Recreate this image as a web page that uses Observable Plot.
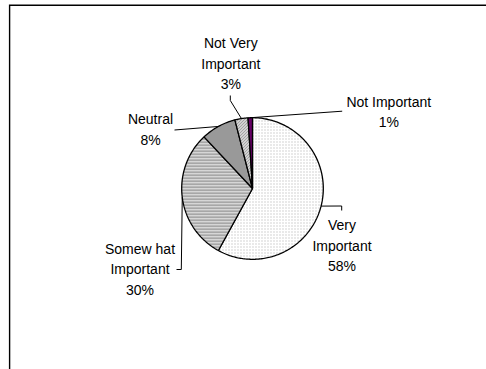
<!DOCTYPE html>
<html>
<head>
<meta charset="utf-8">
<script src="https://cdn.jsdelivr.net/npm/d3@7"></script>
<script src="https://cdn.jsdelivr.net/npm/@observablehq/plot@0.6"></script>
<style>
  html, body { margin: 0; padding: 0; background: #fff; overflow: hidden; }
  svg { display: block; }
</style>
</head>
<body>
<div id="chart"></div>
<script>
// ---- data ----
const categories = ["Very Important", "Somewhat Important", "Neutral", "Not Very Important", "Not Important"];
const labelNames = ["Very\nImportant", "Somew hat\nImportant", "Neutral", "Not Very\nImportant", "Not Important"];
const values = [58, 30, 8, 3, 1];

// ---- styles ----
const fills = ["url(#pt-very)", "url(#pt-some)", "url(#pt-neut)", "url(#pt-notvery)", "#660066"];

// ---- layout (pixels) ----
const CX = 252, CY = 188, R = 70.8;
const labelPos = [[341.5, 243.5], [139.5, 267.3], [150, 127.5], [230.3, 61.5], [388.3, 109.7]];
const leaderPts = [
  [[341.2, 205.5], [341.2, 210]],
  [[180.8, 269], [176, 269]],
  [[174, 129.5]],
  [[229.8, 100], [229.8, 95]],
  [[341.7, 110.7]]
];

const toUx = px => (px - CX) / R;
const toUy = py => (CY - py) / R;

const data = categories.map((c, i) => ({cat: c, value: values[i], name: labelNames[i]}));
const arcs = d3.pie().sort(null).value(d => d.value)(data);

// slice polygons in unit coordinates (clockwise from 12 o'clock)
const slicePts = [];
arcs.forEach(a => {
  const cat = a.data.cat;
  slicePts.push({cat, x: 0, y: 0});
  const n = Math.max(2, Math.ceil((a.endAngle - a.startAngle) / (Math.PI / 180)));
  for (let k = 0; k <= n; k++) {
    const t = a.startAngle + (a.endAngle - a.startAngle) * k / n;
    slicePts.push({cat, x: Math.sin(t), y: Math.cos(t)});
  }
});

// leader lines: start at arc mid-angle, then layout points
const leaders = [];
arcs.forEach((a, i) => {
  const m = (a.startAngle + a.endAngle) / 2;
  leaders.push({cat: a.data.cat, x: Math.sin(m), y: Math.cos(m)});
  leaderPts[i].forEach(p => leaders.push({cat: a.data.cat, x: toUx(p[0]), y: toUy(p[1])}));
});

const labels = arcs.map((a, i) => ({
  text: `${a.data.name}\n${a.data.value}%`,
  x: toUx(labelPos[i][0]),
  y: toUy(labelPos[i][1])
}));

const defsMark = () => {
  const defs = d3.create("svg:defs");
  const mk = (id, w, h, cells, bg) => {
    const p = defs.append("pattern").attr("id", id).attr("patternUnits", "userSpaceOnUse")
      .attr("width", w).attr("height", h);
    p.append("rect").attr("width", w).attr("height", h).attr("fill", bg);
    cells.forEach(([x, y, c]) => p.append("rect").attr("x", x).attr("y", y)
      .attr("width", 1).attr("height", 1).attr("fill", c));
  };
  mk("pt-very", 3, 3, [[0, 0, "#a8a8a8"]], "#ffffff");
  mk("pt-some", 1, 3, [[0, 0, "#8a8a8a"], [0, 1, "#c4c4c4"]], "#e8e8e8");
  mk("pt-neut", 2, 2, [[0, 0, "#333333"], [1, 1, "#333333"]], "#ffffff");
  mk("pt-notvery", 3, 3, [[0, 2, "#4a4a4a"], [1, 1, "#4a4a4a"], [2, 0, "#4a4a4a"]], "#ffffff");
  return defs.node();
};

// chart border: open at right and bottom (cropped in the reference)
const borderMark = () => {
  const g = d3.create("svg:path")
    .attr("d", "M9.6,380V5.3H500")
    .attr("fill", "none").attr("stroke", "#000").attr("stroke-width", 1.4);
  return g.node();
};

const chart = Plot.plot({
  width: 486,
  height: 369,
  margin: 0,
  style: {background: "#fff", fontFamily: "'Liberation Sans', Arial, sans-serif"},
  x: {domain: [-1, 1], range: [CX - R, CX + R], axis: null},
  y: {domain: [-1, 1], range: [CY + R, CY - R], axis: null},
  color: {domain: categories, range: fills},
  marks: [
    defsMark,
    borderMark,
    Plot.line(slicePts, {x: "x", y: "y", z: "cat", fill: "cat", stroke: "#000", strokeWidth: 1.3, curve: "linear-closed", strokeLinejoin: "miter"}),
    Plot.line(leaders, {x: "x", y: "y", z: "cat", stroke: "#000", strokeWidth: 1, strokeLinecap: "butt"}),
    Plot.text(labels, {x: "x", y: "y", text: "text", fontSize: 14, lineHeight: 1.45, fill: "#000", textAnchor: "middle"})
  ]
});
document.getElementById("chart").appendChild(chart);
</script>
</body>
</html>
